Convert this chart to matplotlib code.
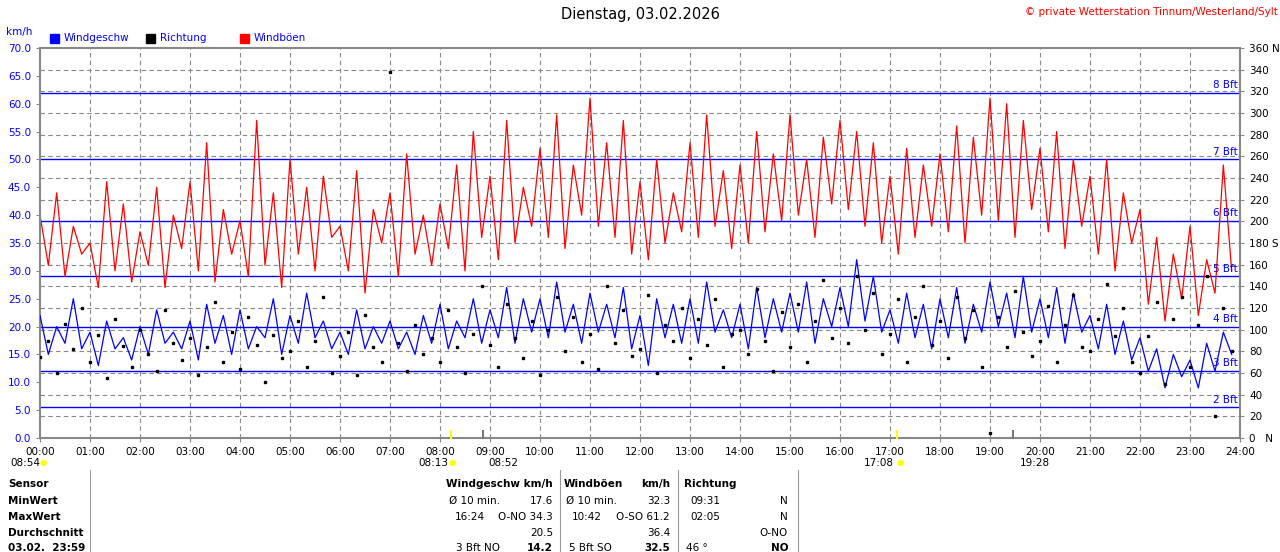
import matplotlib
matplotlib.use("Agg")
from matplotlib import pyplot as plt
import numpy as np

# 10-minute values, one row per hour
gust = [40,31,44,29,38,33, 35,27,46,30,42,28, 37,31,45,27,40,34, 46,30,53,28,41,33,
        39,29,57,31,44,27, 50,33,45,30,47,36, 38,30,48,26,41,35, 44,29,51,33,40,31,
        42,34,49,30,55,36, 47,32,57,35,45,38, 52,36,58,34,49,40, 61,38,53,36,57,33,
        46,32,50,35,44,37, 53,36,58,38,48,34, 49,35,55,37,51,39, 58,40,50,36,54,42,
        57,41,55,38,53,35, 47,33,52,36,49,38, 51,37,56,35,54,40, 61,39,60,36,57,41,
        52,37,55,34,50,38, 47,33,50,30,44,35, 41,24,36,21,33,25, 38,22,32,26,49,30]
speed = [22,15,20,17,25,16, 19,13,21,16,18,14, 20,15,23,17,19,16, 21,14,24,17,22,15,
         23,16,20,18,25,15, 22,17,26,18,21,16, 19,15,23,16,20,17, 21,16,19,15,22,17,
         24,16,21,18,25,17, 23,18,27,17,25,19, 25,18,28,19,24,17, 26,19,24,18,27,16,
         22,13,25,18,24,17, 25,17,28,19,23,18, 24,16,27,18,25,19, 26,19,28,17,25,20,
         27,20,32,21,29,19, 23,17,26,18,24,16, 25,18,27,17,24,19, 28,20,26,18,29,19,
         25,18,27,17,26,19, 22,16,24,15,21,14, 18,12,16,9,15,11, 14,9,17,12,19,15]
direction = [75,90,60,105,82,120, 70,95,55,110,85,66, 100,78,62,118,88,72, 92,58,84,126,70,98,
             64,112,86,52,95,74, 80,108,66,90,130,60, 76,98,58,114,84,70, 338,88,62,104,78,92,
             70,118,84,60,96,140, 86,66,124,92,74,108, 58,100,130,80,112,70, 96,64,140,88,118,76,
             82,132,60,104,90,120, 74,110,86,128,66,96, 100,78,138,90,62,116, 84,124,70,108,146,92,
             120,88,150,100,134,78, 96,128,70,112,140,86, 108,74,130,92,118,66, 5,112,84,136,98,76,
             90,122,70,104,132,84, 80,110,142,94,120,70, 60,94,126,50,110,130, 66,104,150,20,120,80]
bft_kmh = [5.5, 12, 20, 29, 39, 50, 62]
bft_labels = ["2 Bft", "3 Bft", "4 Bft", "5 Bft", "6 Bft", "7 Bft", "8 Bft"]
hours = [f"{h:02d}:00" for h in range(25)]

t = np.arange(len(gust)) / 6.0

fs = 7.5
fig = plt.figure(figsize=(12.8, 5.52), dpi=100)
ax = fig.add_axes([40/1280, 1-438/552, 1200/1280, 390/552])
ax.set_xlim(0, 24)
ax.set_ylim(0, 70)
for y in np.arange(0, 70, 70/18):
    ax.axhline(y, color="#888888", ls=(0, (4, 3)), lw=0.8, zorder=0)
for h in range(1, 24):
    ax.axvline(h, color="#888888", ls=(0, (4, 3)), lw=0.8, zorder=0)
ax.plot(t, gust, color="red", lw=0.9, zorder=2)
ax.plot(t, speed, color="blue", lw=0.9, zorder=3)
ax.plot(t, np.array(direction) * 70 / 360, "s", color="black", ms=1.5, zorder=4)
for v, lab in zip(bft_kmh, bft_labels):
    ax.axhline(v, color="blue", lw=1, zorder=1)
    ax.text(23.95, v + 0.5, lab, color="blue", fontsize=fs, ha="right", va="bottom")
ax.set_yticks(np.arange(0, 71, 5))
ax.set_yticklabels([f"{v:.1f}" for v in np.arange(0, 71, 5)], color="blue", fontsize=fs)
ax.set_xticks(range(25))
ax.set_xticklabels(hours, fontsize=fs)
ax.tick_params(length=3, color="#888888")
for s in ax.spines.values():
    s.set_color("#888888")
    s.set_linewidth(1.5)

ax2 = ax.twinx()
ax2.set_ylim(0, 360)
ticks = np.arange(0, 361, 20)
lab = [str(v) for v in ticks]
lab[0] = "0   N"; lab[9] = "180 S"; lab[18] = "360 N"
ax2.set_yticks(ticks)
ax2.set_yticklabels(lab, fontsize=fs)
ax2.tick_params(length=3, color="#888888")
for s in ax2.spines.values():
    s.set_visible(False)

fig.text(0.5, 1-15/552, "Dienstag, 03.02.2026", ha="center", va="center", fontsize=10.5)
fig.text(0.998, 1-12/552, "© private Wetterstation Tinnum/Westerland/Sylt", ha="right", va="center",
         color="red", fontsize=fs)
fig.text(6/1280, 1-32/552, "km/h", color="blue", fontsize=fs, va="center")
for x, c, name in [(50, "blue", "Windgeschw"), (146, "black", "Richtung"), (240, "red", "Windböen")]:
    fig.patches.append(plt.Rectangle((x/1280, 1-43/552), 9/1280, 9/552, color=c, transform=fig.transFigure))
    fig.text((x+14)/1280, 1-38/552, name, color="blue", fontsize=fs, va="center")

# sun / moon markers
for hh, c in [(8 + 13/60, "yellow"), (17 + 8/60, "yellow"), (8 + 52/60, "#777777"), (19 + 28/60, "#777777")]:
    ax.plot([hh, hh], [0, 1.2], color=c, lw=1.5, clip_on=False, zorder=5)
for x, s in [(10, "08:54"), (418, "08:13"), (488, "08:52"), (864, "17:08"), (1020, "19:28")]:
    fig.text(x/1280, 1-463/552, s, fontsize=fs, va="center")
for x in [40, 449, 897]:
    fig.text(x/1280, 1-463/552, "●", color="yellow", fontsize=6, va="center")

# table
rows_y = [484, 501, 517, 533, 548]
left = ["Sensor", "MinWert", "MaxWert", "Durchschnitt", "03.02.  23:59"]
for y, s in zip(rows_y, left):
    fig.text(8/1280, 1-y/552, s, fontsize=fs, fontweight="bold", va="center")
cells = [
    (553, 484, "Windgeschw km/h", "right", True), (623, 484, "Windböen", "right", True),
    (670, 484, "km/h", "right", True), (684, 484, "Richtung", "left", True),
    (449, 501, "Ø 10 min.", "left", False), (553, 501, "17.6", "right", False),
    (566, 501, "Ø 10 min.", "left", False), (670, 501, "32.3", "right", False),
    (690, 501, "09:31", "left", False), (788, 501, "N", "right", False),
    (455, 517, "16:24", "left", False), (553, 517, "O-NO 34.3", "right", False),
    (572, 517, "10:42", "left", False), (670, 517, "O-SO 61.2", "right", False),
    (690, 517, "02:05", "left", False), (788, 517, "N", "right", False),
    (553, 533, "20.5", "right", False), (670, 533, "36.4", "right", False),
    (788, 533, "O-NO", "right", False),
    (500, 548, "3 Bft NO", "right", False), (553, 548, "14.2", "right", True),
    (612, 548, "5 Bft SO", "right", False), (670, 548, "32.5", "right", True),
    (686, 548, "46 °", "left", False), (788, 548, "NO", "right", True),
]
for x, y, s, ha, b in cells:
    fig.text(x/1280, 1-y/552, s, fontsize=fs, ha=ha, va="center",
             fontweight="bold" if b else "normal")
for x in [90, 560, 678, 798]:
    fig.add_artist(plt.Line2D([x/1280, x/1280], [0, 1-470/552], color="#999999", lw=0.8))

fig.savefig("out.png", dpi=100)
